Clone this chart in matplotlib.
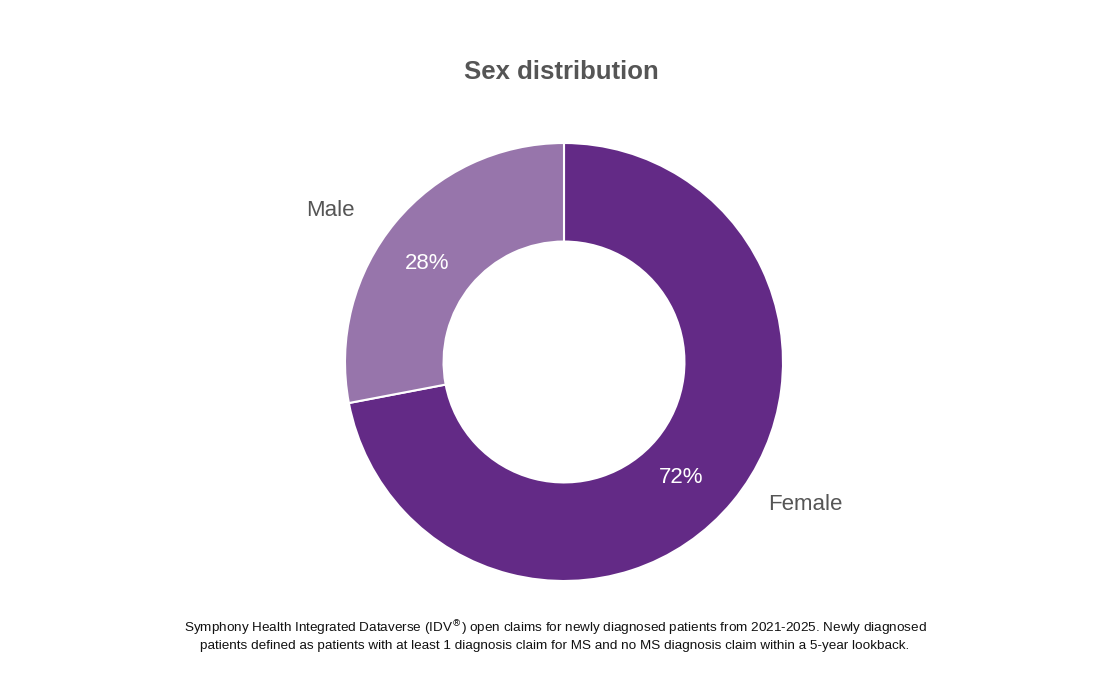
import numpy as np
import matplotlib
matplotlib.use("Agg")
import matplotlib.pyplot as plt

plt.rcParams['font.family'] = ['Liberation Sans', 'DejaVu Sans']

categories = ["Female", "Male"]
shares = [72, 28]
colors = ["#632a86", "#9775ab"]
text_gray = "#555555"

fig = plt.figure(figsize=(11.1, 6.78), dpi=100)
ax = fig.add_axes([0, 0, 1, 1])

wedges, _ = ax.pie(shares, colors=colors, startangle=90, counterclock=False,
                   radius=1.0, wedgeprops=dict(width=0.45, edgecolor="white", linewidth=1.5))

# pixel layout: donut centre (564, 362), outer radius 219 px
cx, cy, rpx = 564, 362, 219
W, H = 1110, 678
ax.set_aspect("auto")
ax.set_xlim(-cx / rpx, (W - cx) / rpx)
ax.set_ylim((cy - H) / rpx, cy / rpx)
ax.axis("off")

# label placement (angle nudge in degrees, radius) per wedge
label_place = [(9, 1.28), (6.6, 1.27)]
pct_place = [(-5, 0.75), (4, 0.77)]
for w, cat, val, lp, pp in zip(wedges, categories, shares, label_place, pct_place):
    mid = (w.theta1 + w.theta2) / 2
    a = np.deg2rad(mid + lp[0])
    ax.text(lp[1] * np.cos(a), lp[1] * np.sin(a), cat, ha="center", va="center",
            fontsize=16, color=text_gray)
    a = np.deg2rad(mid + pp[0])
    ax.text(pp[1] * np.cos(a), pp[1] * np.sin(a), f"{val}%", ha="center", va="center",
            fontsize=16, color="white")

fig.text(561 / W, 1 - 72 / H, "Sex distribution", ha="center", va="center",
         fontsize=18.5, fontweight="bold", color=text_gray)

note = ("Symphony Health Integrated Dataverse (IDV$^{®}$) open claims for newly diagnosed patients from 2021-2025. Newly diagnosed\n"
        "patients defined as patients with at least 1 diagnosis claim for MS and no MS diagnosis claim within a 5-year lookback.")
fig.text(555 / W, 1 - 635 / H, note, ha="center", va="center", fontsize=9.7,
         color="#111111", linespacing=1.25)

fig.savefig("out.png", dpi=100)
